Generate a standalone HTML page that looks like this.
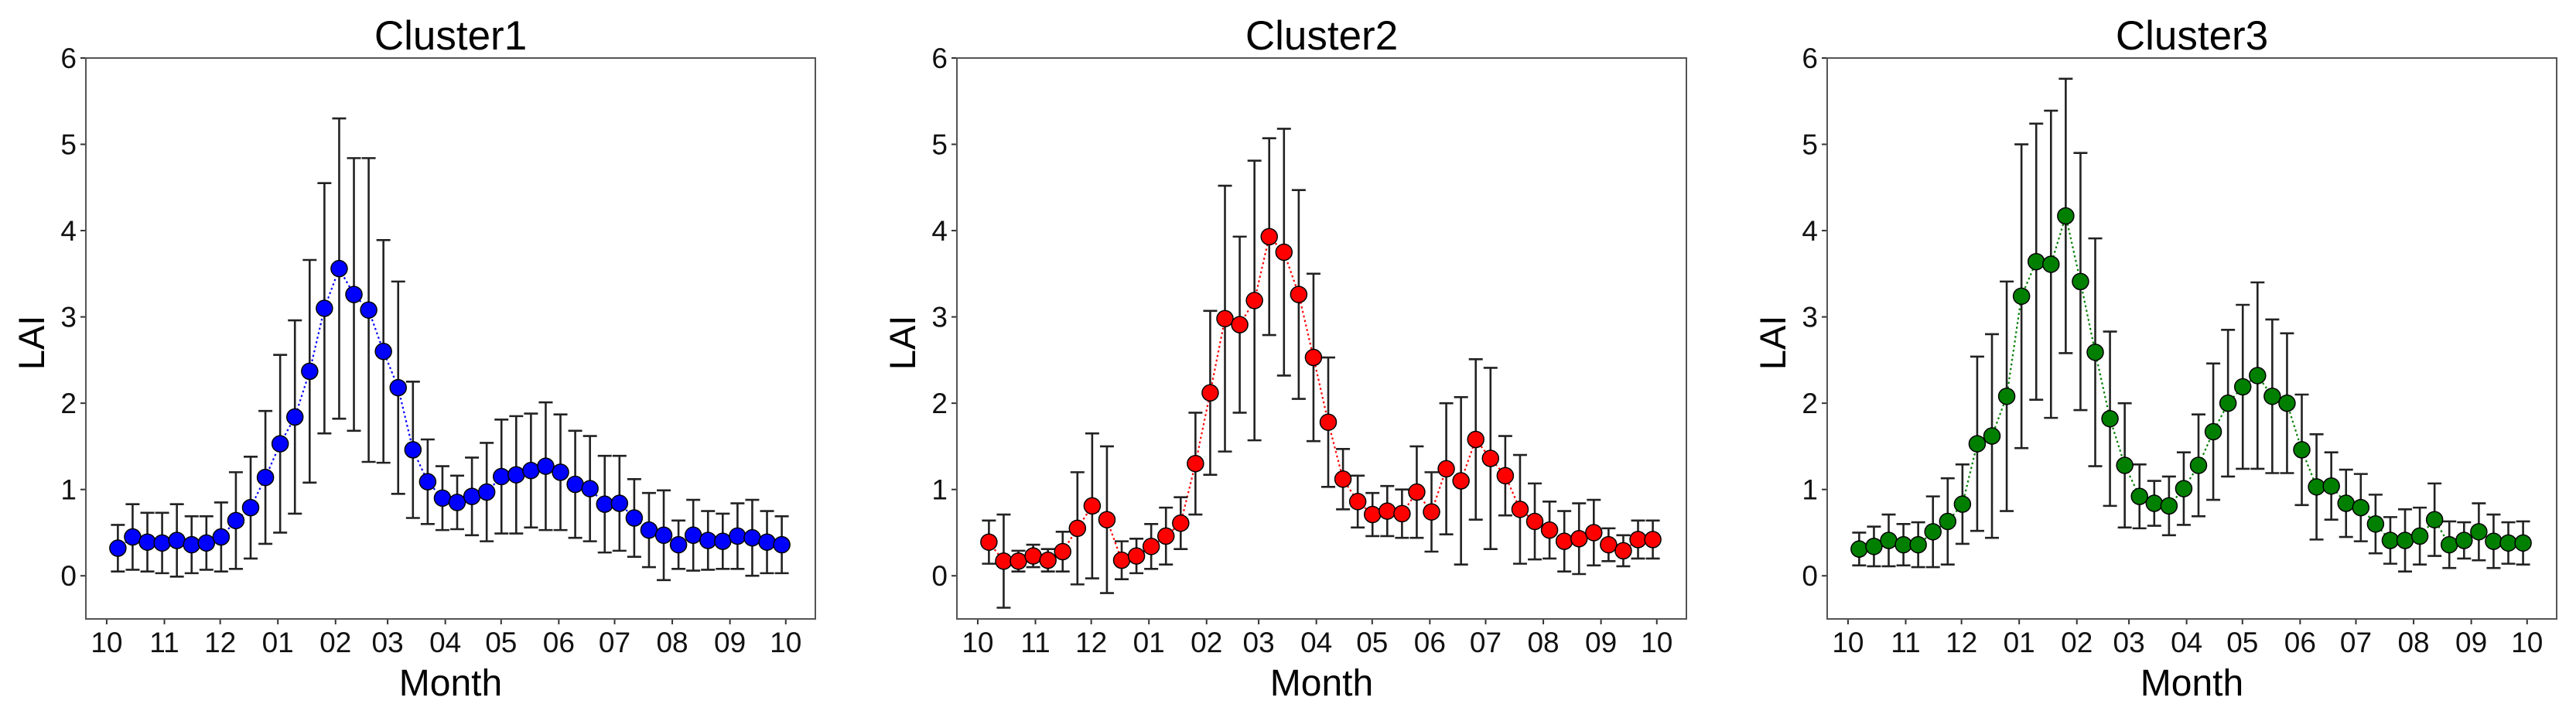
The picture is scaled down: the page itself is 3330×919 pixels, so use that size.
<!DOCTYPE html>
<html><head><meta charset="utf-8"><style>
html,body{margin:0;padding:0;background:#fff;}
svg{display:block;font-family:"Liberation Sans","DejaVu Sans",sans-serif;}
</style></head><body>
<svg id="fig" width="3330" height="919" viewBox="0 0 3330 919" xmlns="http://www.w3.org/2000/svg"></svg>
<script>
const monthTickLabels = ["10","11","12","01","02","03","04","05","06","07","08","09","10"];
const monthTickDays = [0,31,61,92,123,151,182,212,243,273,304,335,365];
const yTickValues = [0,1,2,3,4,5,6];
const clusterTitles = ["Cluster1","Cluster2","Cluster3"];
const cluster1Mean = [.32,.45,.39,.38,.41,.36,.38,.45,.64,.79,1.14,1.53,1.84,2.37,3.10,3.56,3.26,3.08,2.60,2.18,1.46,1.09,.90,.85,.92,.97,1.15,1.17,1.22,1.27,1.20,1.06,1.01,.83,.84,.67,.53,.47,.36,.47,.41,.40,.46,.44,.39,.36];
const cluster1Err = [.27,.38,.34,.35,.42,.33,.31,.40,.56,.59,.77,1.03,1.12,1.29,1.45,1.74,1.58,1.76,1.29,1.23,.79,.49,.37,.31,.45,.57,.66,.68,.66,.74,.67,.62,.61,.56,.55,.45,.43,.52,.28,.41,.34,.32,.38,.44,.36,.33];
const cluster2Mean = [.39,.17,.17,.23,.18,.28,.55,.81,.65,.18,.23,.34,.46,.61,1.30,2.12,2.98,2.91,3.19,3.93,3.75,3.26,2.53,1.78,1.12,.86,.71,.75,.72,.97,.74,1.24,1.10,1.58,1.36,1.16,.77,.63,.53,.40,.43,.50,.36,.29,.42,.42];
const cluster2Err = [.25,.54,.12,.13,.13,.23,.65,.84,.85,.22,.20,.26,.33,.30,.59,.95,1.54,1.02,1.62,1.14,1.43,1.21,.97,.75,.35,.30,.25,.29,.28,.53,.46,.76,.97,.93,1.05,.46,.63,.44,.33,.35,.41,.38,.19,.18,.22,.22];
const cluster3Mean = [.31,.34,.41,.36,.36,.51,.63,.83,1.53,1.62,2.08,3.24,3.64,3.61,4.17,3.41,2.59,1.82,1.28,.92,.84,.81,1.01,1.28,1.67,2.00,2.19,2.32,2.08,2.00,1.46,1.03,1.04,.84,.79,.60,.41,.41,.46,.65,.36,.41,.51,.40,.38,.38];
const cluster3Err = [.19,.23,.30,.24,.26,.41,.50,.46,1.01,1.18,1.33,1.76,1.60,1.78,1.59,1.49,1.32,1.01,.72,.37,.26,.34,.42,.59,.79,.85,.95,1.08,.89,.81,.64,.61,.39,.39,.39,.34,.27,.36,.33,.42,.27,.21,.33,.31,.24,.25];
const firstSampleDay = 6;
const sampleStepDays = 7.93;

const NS="http://www.w3.org/2000/svg";
const svg=document.getElementById('fig');
function mk(tag,attrs,parent){const e=document.createElementNS(NS,tag);for(const k in attrs)e.setAttribute(k,attrs[k]);(parent||svg).appendChild(e);return e;}

const panels=[
 {left:111,mean:cluster1Mean,err:cluster1Err,color:"#0000ff",name:"cluster1"},
 {left:1237,mean:cluster2Mean,err:cluster2Err,color:"#ff0000",name:"cluster2"},
 {left:2362,mean:cluster3Mean,err:cluster3Err,color:"#007f00",name:"cluster3"}
];
const W=943, TOP=75, BOT=800, XMIN=-11.2, XMAX=380.9, YMIN=-0.5, YMAX=6;

panels.forEach((p,pi)=>{
  const g=mk('g',{});
  
  
  const xs=d=>p.left+(d-XMIN)/(XMAX-XMIN)*W;
  const ys=v=>BOT-(v-YMIN)/(YMAX-YMIN)*(BOT-TOP);
  // title
  const t=mk('text',{x:p.left+W/2,y:64,'font-size':53,'text-anchor':'middle',fill:'#000'},g);
  t.textContent=clusterTitles[pi];
  
  
  // y ticks
  yTickValues.forEach(v=>{
    mk('line',{x1:p.left-7,x2:p.left,y1:ys(v),y2:ys(v),stroke:'#333','stroke-width':2},g);
    const l=mk('text',{x:p.left-12,y:ys(v)+13,'font-size':37,'text-anchor':'end',fill:'#111'},g);
    l.textContent=String(v);
    
    
  });
  // x ticks
  monthTickDays.forEach((d,i)=>{
    mk('line',{x1:xs(d),x2:xs(d),y1:BOT,y2:BOT+7,stroke:'#333','stroke-width':2},g);
    const l=mk('text',{x:xs(d),y:843,'font-size':37,'text-anchor':'middle',fill:'#111'},g);
    l.textContent=monthTickLabels[i];
    
    
  });
  const xl=mk('text',{x:p.left+W/2,y:899,'font-size':48,'text-anchor':'middle',fill:'#000'},g);
  xl.textContent='Month';
  
  
  const yl=mk('text',{x:0,y:0,'font-size':47,'text-anchor':'middle',fill:'#000',transform:`translate(${p.left-54},443) rotate(-90)`},g);
  yl.textContent='LAI';
  
  
  // line
  const pts=p.mean.map((v,i)=>xs(firstSampleDay+i*sampleStepDays).toFixed(1)+','+ys(v).toFixed(1)).join(' ');
  const pl=mk('polyline',{points:pts,fill:'none',stroke:p.color,'stroke-width':2.2,'stroke-dasharray':'2.5,3.5'},g);
  
  
  // error bars
  p.mean.forEach((v,i)=>{
    const x=xs(firstSampleDay+i*sampleStepDays), y1=ys(v+p.err[i]), y2=ys(v-p.err[i]);
    const eb=mk('path',{d:`M${x},${y1}V${y2}M${x-9},${y1}H${x+9}M${x-9},${y2}H${x+9}`,stroke:'#222','stroke-width':2.6,fill:'none'},g);
    
    
  });
  p.mean.forEach((v,i)=>{
    const c=mk('circle',{cx:xs(firstSampleDay+i*sampleStepDays),cy:ys(v),r:10.5,fill:p.color,stroke:'#000','stroke-width':1.5},g);
    
    
  });
  const fr=mk('rect',{x:p.left,y:TOP,width:W,height:BOT-TOP,fill:'none',stroke:'#555','stroke-width':2},g);
  
  
});
</script>
</body></html>
